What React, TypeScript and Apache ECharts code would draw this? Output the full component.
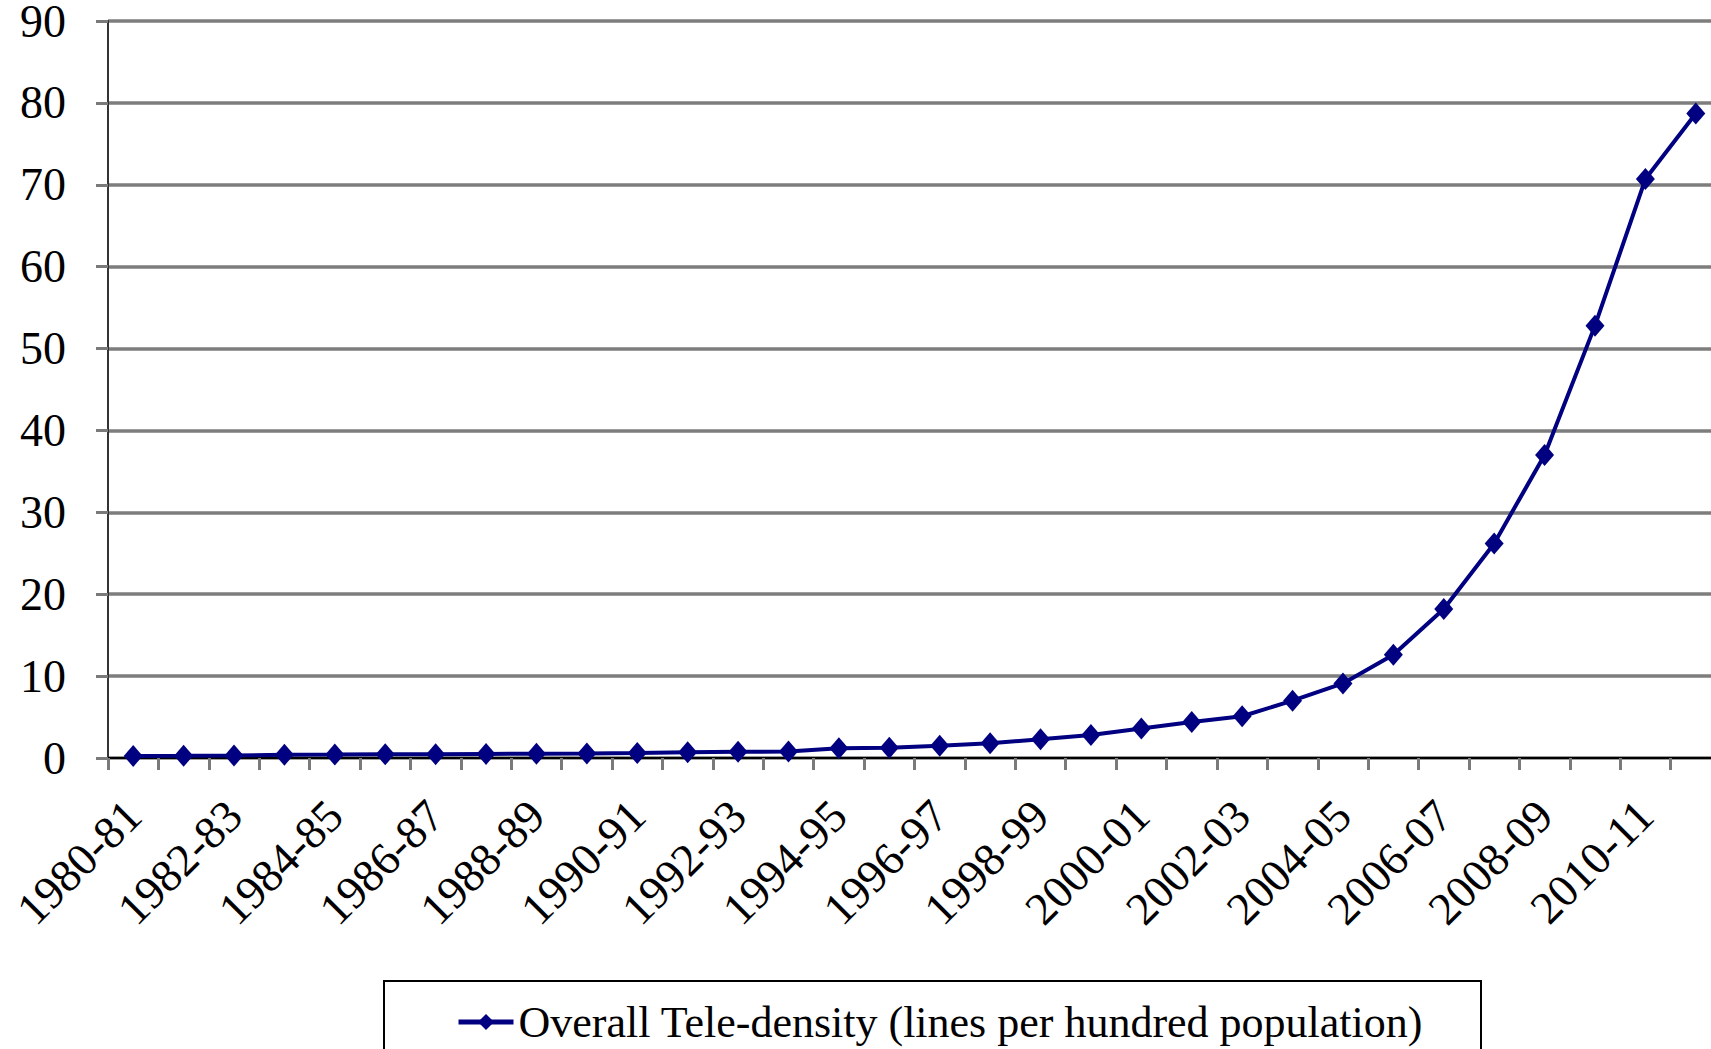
import React, { useEffect, useRef } from "react";
import * as echarts from "echarts";

const categories = [
  "1980-81", "1981-82", "1982-83", "1983-84", "1984-85", "1985-86", "1986-87", "1987-88",
  "1988-89", "1989-90", "1990-91", "1991-92", "1992-93", "1993-94", "1994-95", "1995-96",
  "1996-97", "1997-98", "1998-99", "1999-00", "2000-01", "2001-02", "2002-03", "2003-04",
  "2004-05", "2005-06", "2006-07", "2007-08", "2008-09", "2009-10", "2010-11", "2011-12",
];

const teleDensity = [
  0.25, 0.27, 0.3, 0.4, 0.42, 0.45, 0.47, 0.5,
  0.52, 0.55, 0.6, 0.7, 0.75, 0.8, 1.2, 1.25,
  1.5, 1.8, 2.3, 2.8, 3.6, 4.4, 5.1, 7.0,
  9.1, 12.6, 18.2, 26.2, 37.0, 52.8, 70.7, 78.7,
];

const seriesName = "Overall Tele-density (lines per hundred population)";
const yMin = 0;
const yMax = 90;
const yStep = 10;

const FONT = "'Liberation Serif', 'DejaVu Serif', serif";

export default function App() {
  const ref = useRef<HTMLDivElement>(null);
  useEffect(() => {
    if (!ref.current) return;
    const chart = echarts.init(ref.current, null, { renderer: "svg" });
    chart.setOption({
      animation: false,
      backgroundColor: "#ffffff",
      grid: {
        left: 108,
        right: -10,
        top: 21,
        bottom: 291,
        containLabel: false,
        outerBoundsMode: "none",
      },
      legend: {
        show: true,
        left: 456,
        top: 1000,
        itemWidth: 55,
        itemHeight: 20,
        itemGap: 5,
        padding: 0,
        lineStyle: { width: 5, color: "#000080" },
        textStyle: { fontFamily: FONT, fontSize: 44, color: "#000" },
        data: [seriesName],
      },
      graphic: [
        {
          type: "rect",
          shape: { x: 384, y: 981, width: 1097, height: 100 },
          style: { fill: "none", stroke: "#000", lineWidth: 2 },
          z: 0,
        },
      ],
      xAxis: {
        type: "category",
        data: categories,
        boundaryGap: true,
        axisLine: { show: true, lineStyle: { color: "#000", width: 2 } },
        axisTick: {
          show: true,
          interval: 0,
          length: 12,
          lineStyle: { color: "#7a7a7a", width: 3 },
        },
        axisLabel: {
          interval: 1,
          rotate: 45,
          margin: 50,
          fontFamily: FONT,
          fontSize: 46,
          color: "#000",
        },
        splitLine: { show: false },
      },
      yAxis: {
        type: "value",
        min: yMin,
        max: yMax,
        interval: yStep,
        axisLine: { show: true, lineStyle: { color: "#333", width: 2 } },
        axisTick: { show: true, length: 12, lineStyle: { color: "#7a7a7a", width: 3 } },
        axisLabel: {
          margin: 42,
          fontFamily: FONT,
          fontSize: 46,
          lineHeight: 38,
          color: "#000",
        },
        splitLine: { show: true, lineStyle: { color: "#7d7d7d", width: 3.5 } },
      },
      series: [
        {
          name: seriesName,
          type: "line",
          data: teleDensity,
          symbol: "diamond",
          symbolSize: [19, 22],
          lineStyle: { color: "#000080", width: 4 },
          itemStyle: { color: "#000080" },
          z: 3,
        },
      ],
    });
    return () => chart.dispose();
  }, []);
  return (
    <div
      ref={ref}
      style={{ position: "fixed", left: 0, top: 0, width: 1711, height: 1049, background: "#fff" }}
    />
  );
}
